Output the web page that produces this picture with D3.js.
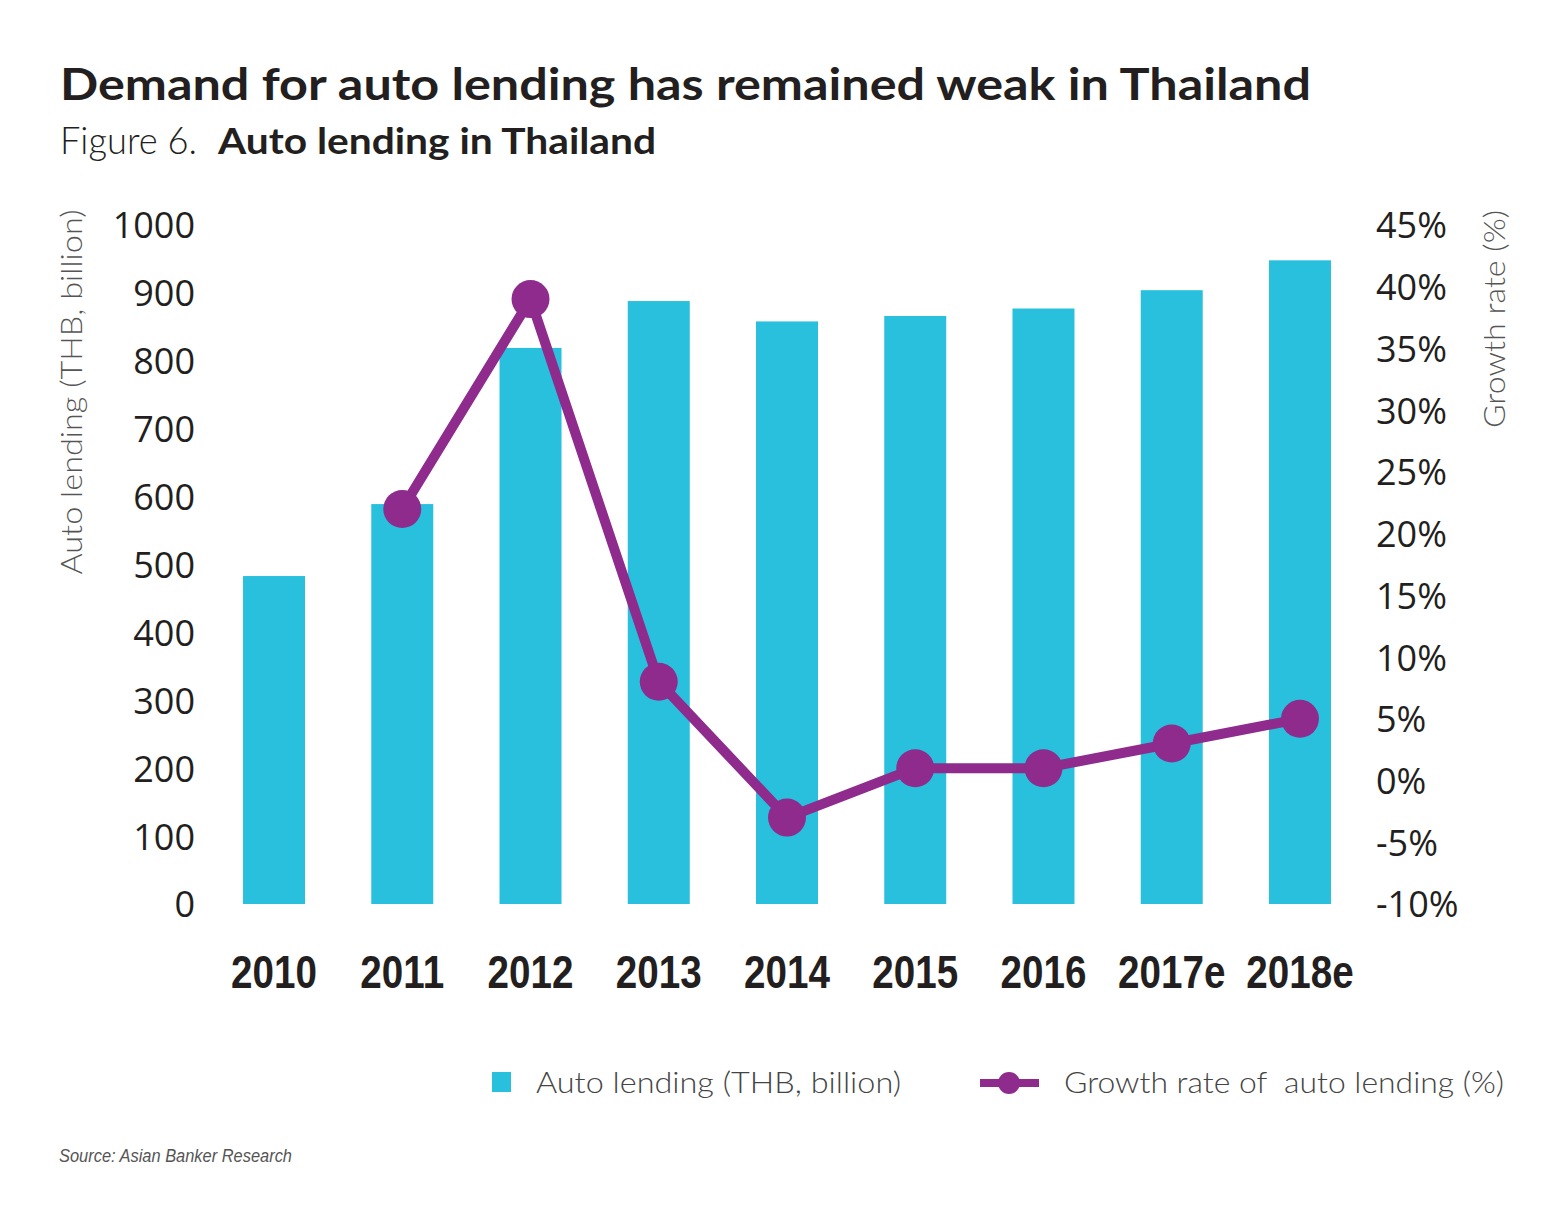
<!DOCTYPE html>
<html>
<head>
<meta charset="utf-8">
<script src="https://cdn.jsdelivr.net/npm/d3@7"></script>
<style>
  html, body { margin: 0; padding: 0; background: #fff; }
  svg { display: block; }
  .pre { white-space: pre; }
</style>
</head>
<body>
<svg id="chart" width="1562" height="1223"></svg>
<script>
// ---- data ----
const categories = ["2010", "2011", "2012", "2013", "2014", "2015", "2016", "2017e", "2018e"];
const autoLending = [483, 589, 819, 888, 858, 866, 877, 904, 948];
const growthRate = [null, 22, 39, 8, -3, 1, 1, 3, 5];
const leftTicks = [0, 100, 200, 300, 400, 500, 600, 700, 800, 900, 1000];
const rightTicks = [-10, -5, 0, 5, 10, 15, 20, 25, 30, 35, 40, 45];

const titleText = "Demand for auto lending has remained weak in Thailand";
const figLabel = "Figure 6.";
const figTitle = "Auto lending in Thailand";
const leftAxisTitle = "Auto lending (THB, billion)";
const rightAxisTitle = "Growth rate (%)";
const legendBar = "Auto lending (THB, billion)";
const legendLine = "Growth rate of  auto lending (%)";
const sourceText = "Source: Asian Banker Research";

const CYAN = "#29c0de";
const PURPLE = "#8e2b8d";
const TEXT = "#231f20";

const svg = d3.select("#chart");

// ---- scales ----
const x = d3.scaleBand()
  .domain(categories)
  .range([209.9, 1364.1])
  .paddingInner(0.5166)
  .paddingOuter(0.2583);

const yL = d3.scaleLinear().domain([0, 1000]).range([904, 225]);
const yR = d3.scaleLinear().domain([-10, 45]).range([904, 225]);

// ---- titles ----
svg.append("text")
  .attr("x", 60).attr("y", 100)
  .attr("font-family", "Lato, 'Open Sans', sans-serif")
  .attr("font-weight", 700)
  .attr("font-size", 44)
  .attr("fill", TEXT)
  .attr("textLength", 1251).attr("lengthAdjust", "spacingAndGlyphs")
  .text(titleText);

svg.append("text")
  .attr("x", 60).attr("y", 154)
  .attr("font-family", "Lato, 'Open Sans', sans-serif")
  .attr("font-weight", 300)
  .attr("font-size", 37)
  .attr("fill", TEXT)
  .attr("textLength", 137).attr("lengthAdjust", "spacingAndGlyphs")
  .text(figLabel);

svg.append("text")
  .attr("x", 218).attr("y", 154)
  .attr("font-family", "Lato, 'Open Sans', sans-serif")
  .attr("font-weight", 700)
  .attr("font-size", 37)
  .attr("fill", TEXT)
  .attr("textLength", 438).attr("lengthAdjust", "spacingAndGlyphs")
  .text(figTitle);

// ---- bars ----
svg.append("g").selectAll("rect")
  .data(categories)
  .join("rect")
  .attr("x", d => x(d))
  .attr("width", x.bandwidth())
  .attr("y", (d, i) => yL(autoLending[i]))
  .attr("height", (d, i) => yL(0) - yL(autoLending[i]))
  .attr("fill", CYAN);

// ---- axes ----
const axL = svg.append("g")
  .attr("transform", "translate(195,0)")
  .call(d3.axisLeft(yL).tickValues(leftTicks).tickSize(0).tickPadding(0).tickFormat(d => String(d)));
axL.select(".domain").remove();
axL.selectAll("text")
  .attr("font-family", "'Open Sans', sans-serif")
  .attr("font-size", 36)
  .attr("fill", TEXT)
  .attr("dy", "0.36em");

const axR = svg.append("g")
  .attr("transform", "translate(1376,0)")
  .call(d3.axisRight(yR).tickValues(rightTicks).tickSize(0).tickPadding(0)
    .tickFormat(d => (d < 0 ? "-" + Math.abs(d) : String(d)) + "%"));
axR.select(".domain").remove();
axR.selectAll("text")
  .attr("font-family", "'Open Sans', sans-serif")
  .attr("font-size", 36)
  .attr("fill", TEXT)
  .attr("dy", "0.36em");

// x axis category labels (condensed bold look via horizontal scaling)
const axX = svg.append("g")
  .attr("transform", "translate(0,904)")
  .call(d3.axisBottom(x).tickSize(0).tickPadding(0));
axX.select(".domain").remove();
axX.selectAll("text")
  .attr("font-family", "'Liberation Sans', Arial, sans-serif")
  .attr("font-weight", 700)
  .attr("font-size", 46)
  .attr("fill", TEXT)
  .attr("dy", null)
  .attr("y", 0)
  .attr("transform", "translate(0,84) scale(0.84,1)");

// axis titles
svg.append("text")
  .attr("transform", "translate(82,392) rotate(-90)")
  .attr("text-anchor", "middle")
  .attr("font-family", "Lato, 'Open Sans', sans-serif")
  .attr("font-weight", 300)
  .attr("font-size", 30)
  .attr("fill", "#555")
  .attr("textLength", 365).attr("lengthAdjust", "spacingAndGlyphs")
  .text(leftAxisTitle);

svg.append("text")
  .attr("transform", "translate(1505,319) rotate(-90)")
  .attr("text-anchor", "middle")
  .attr("font-family", "Lato, 'Open Sans', sans-serif")
  .attr("font-weight", 300)
  .attr("font-size", 30)
  .attr("fill", "#555")
  .attr("textLength", 218).attr("lengthAdjust", "spacingAndGlyphs")
  .text(rightAxisTitle);

// ---- growth line ----
const pts = categories.map((c, i) => ({ c, v: growthRate[i] })).filter(d => d.v !== null);
const line = d3.line()
  .x(d => x(d.c) + x.bandwidth() / 2)
  .y(d => yR(d.v));

svg.append("path")
  .datum(pts)
  .attr("d", line)
  .attr("fill", "none")
  .attr("stroke", PURPLE)
  .attr("stroke-width", 10)
  .attr("stroke-linejoin", "round");

svg.append("g").selectAll("circle")
  .data(pts)
  .join("circle")
  .attr("cx", d => x(d.c) + x.bandwidth() / 2)
  .attr("cy", d => yR(d.v))
  .attr("r", 19)
  .attr("fill", PURPLE);

// ---- legend ----
const lg = svg.append("g");
lg.append("rect").attr("x", 492).attr("y", 1072).attr("width", 19).attr("height", 20).attr("fill", CYAN);
lg.append("text")
  .attr("x", 536).attr("y", 1093)
  .attr("font-family", "Lato, 'Open Sans', sans-serif")
  .attr("font-weight", 300)
  .attr("font-size", 29)
  .attr("fill", "#444")
  .attr("textLength", 365).attr("lengthAdjust", "spacingAndGlyphs")
  .text(legendBar);

lg.append("line").attr("x1", 980).attr("x2", 1039).attr("y1", 1083).attr("y2", 1083)
  .attr("stroke", PURPLE).attr("stroke-width", 8);
lg.append("circle").attr("cx", 1009).attr("cy", 1083).attr("r", 11).attr("fill", PURPLE);
lg.append("text")
  .attr("class", "pre")
  .attr("x", 1064).attr("y", 1093)
  .attr("font-family", "Lato, 'Open Sans', sans-serif")
  .attr("font-weight", 300)
  .attr("font-size", 29)
  .attr("fill", "#444")
  .attr("textLength", 440).attr("lengthAdjust", "spacingAndGlyphs")
  .text(legendLine);

// ---- source ----
svg.append("text")
  .attr("x", 59).attr("y", 1162)
  .attr("font-family", "'Liberation Sans', Arial, sans-serif")
  .attr("font-style", "italic")
  .attr("font-size", 19)
  .attr("fill", "#555")
  .attr("textLength", 233).attr("lengthAdjust", "spacingAndGlyphs")
  .text(sourceText);
</script>
</body>
</html>
